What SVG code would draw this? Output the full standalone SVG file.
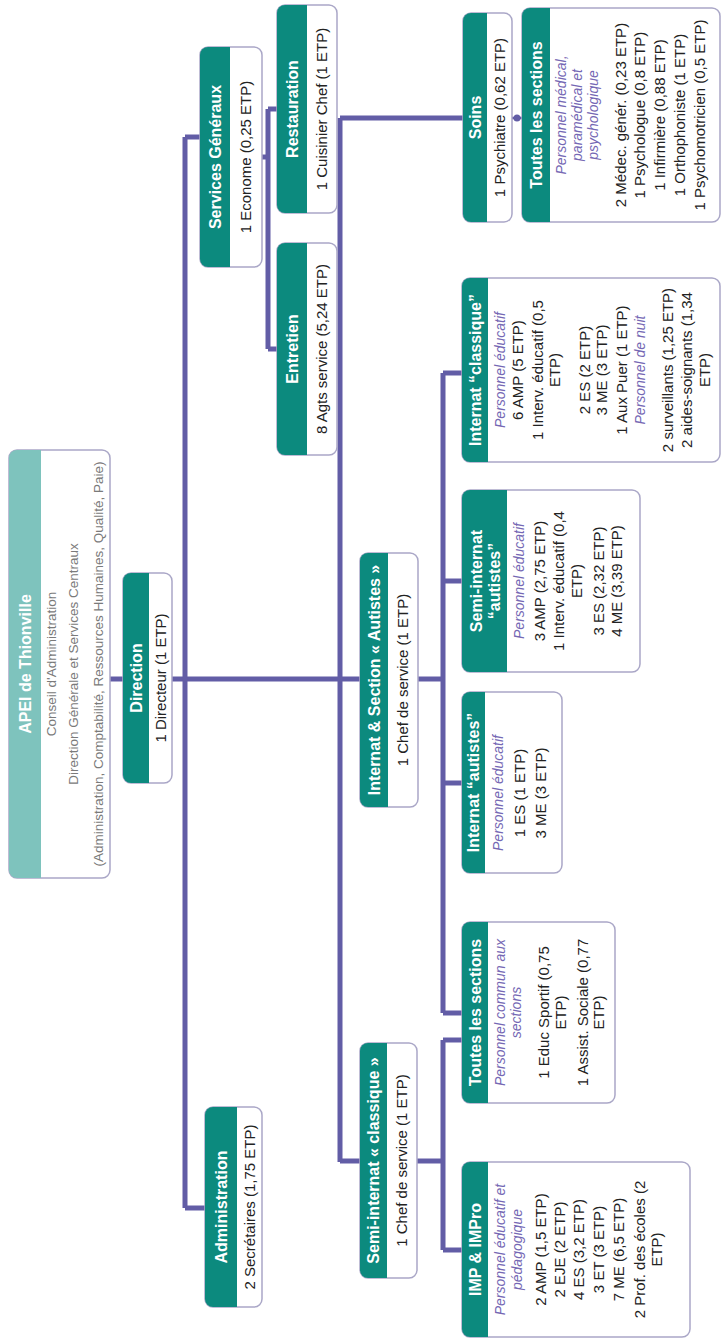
<svg xmlns="http://www.w3.org/2000/svg" width="723" height="1341" viewBox="0 0 723 1341">
<style>
.box{fill:#fff;stroke:#aaa7c7;stroke-width:1.5}
.band{fill:#0c8a7e}
.band2{fill:#7ec3bd}
text{font-family:"Liberation Sans",Arial,sans-serif;text-anchor:middle}
.hd{font-weight:bold;font-size:16px;fill:#fff}
.tx{font-size:15px;fill:#222}
.it{font-style:italic;font-size:14px;fill:#7568b4}
.gr{font-size:13.5px;fill:#7a7a7a}
.cn{fill:none;stroke:#625da6;stroke-width:5}
</style>
<rect width="723" height="1341" fill="#fff"/>
<g transform="translate(0,1341) rotate(-90)">
<g id="connectors" class="cn">
<path d="M662,110 V123"/>
<path d="M662,172 V360"/>
<path d="M133,185 H1204"/>
<path d="M1204,185 V200"/>
<path d="M133,185 V205"/>
<path d="M179,340 H1223"/>
<path d="M1223,340 V463"/>
<path d="M180,340 V360"/>
<path d="M1184,262 V268"/>
<path d="M992,268 H1232"/>
<path d="M1232,268 V277"/>
<path d="M992,268 V277"/>
<path d="M662,418 V443"/>
<path d="M328,443 H968"/>
<path d="M968,443 V462"/>
<path d="M760,443 V462"/>
<path d="M558,443 V462"/>
<path d="M328,443 V462"/>
<path d="M180,417 V443"/>
<path d="M91,443 H301"/>
<path d="M301,443 V462"/>
<path d="M91,443 V462"/>
<path d="M1223,512 V522" stroke-width="2.5"/>
</g>
<circle cx="1223" cy="517" r="3.5" fill="#625da6"/>

<g id="apei">
<rect class="box" x="463" y="9" width="428" height="101" rx="8"/>
<path class="band2" d="M463,41 V17 A8,8 0 0 1 471,9 H883 A8,8 0 0 1 891,17 V41 Z"/>
<text class="hd" x="677" y="31" font-size="13.5">APEI de Thionville</text>
<text class="gr" x="677" y="56">Conseil d'Administration</text>
<text class="gr" x="677" y="78">Direction Générale et Services Centraux</text>
<text class="gr" x="677" y="103">(Administration, Comptabilité, Ressources Humaines, Qualité, Paie)</text>
</g>

<g id="direction">
<rect class="box" x="558" y="123" width="210" height="49" rx="8"/>
<path class="band" d="M558,149 V131 A8,8 0 0 1 566,123 H760 A8,8 0 0 1 768,131 V149 Z"/>
<text class="hd" x="663" y="142">Direction</text>
<text class="tx" x="663" y="166">1 Directeur (1 ETP)</text>
</g>

<g id="services-generaux">
<rect class="box" x="1074" y="200" width="220" height="62" rx="8"/>
<path class="band" d="M1074,230 V208 A8,8 0 0 1 1082,200 H1286 A8,8 0 0 1 1294,208 V230 Z"/>
<text class="hd" x="1184" y="221">Services Généraux</text>
<text class="tx" x="1184" y="251">1 Econome (0,25 ETP)</text>
</g>

<g id="restauration">
<rect class="box" x="1128" y="277" width="208" height="60" rx="8"/>
<path class="band" d="M1128,307 V285 A8,8 0 0 1 1136,277 H1328 A8,8 0 0 1 1336,285 V307 Z"/>
<text class="hd" x="1232" y="298">Restauration</text>
<text class="tx" x="1232" y="327">1 Cuisinier Chef (1 ETP)</text>
</g>

<g id="entretien">
<rect class="box" x="886" y="277" width="212" height="60" rx="8"/>
<path class="band" d="M886,307 V285 A8,8 0 0 1 894,277 H1090 A8,8 0 0 1 1098,285 V307 Z"/>
<text class="hd" x="992" y="298">Entretien</text>
<text class="tx" x="992" y="327">8 Agts service (5,24 ETP)</text>
</g>

<g id="administration">
<rect class="box" x="34" y="205" width="200" height="57" rx="8"/>
<path class="band" d="M34,237 V213 A8,8 0 0 1 42,205 H226 A8,8 0 0 1 234,213 V237 Z"/>
<text class="hd" x="134" y="227">Administration</text>
<text class="tx" x="134" y="255">2 Secrétaires (1,75 ETP)</text>
</g>

<g id="internat-section-autistes">
<rect class="box" x="534" y="360" width="254" height="58" rx="8"/>
<path class="band" d="M534,388 V368 A8,8 0 0 1 542,360 H780 A8,8 0 0 1 788,368 V388 Z"/>
<text class="hd" x="661" y="380">Internat &amp; Section « Autistes »</text>
<text class="tx" x="661" y="408">1 Chef de service (1 ETP)</text>
</g>

<g id="semi-internat-classique">
<rect class="box" x="63" y="360" width="235" height="57" rx="8"/>
<path class="band" d="M63,387 V368 A8,8 0 0 1 71,360 H290 A8,8 0 0 1 298,368 V387 Z"/>
<text class="hd" x="180.5" y="379">Semi-internat « classique »</text>
<text class="tx" x="180.5" y="407">1 Chef de service (1 ETP)</text>
</g>

<g id="soins">
<rect class="box" x="1119" y="463" width="209" height="49" rx="8"/>
<path class="band" d="M1119,487 V471 A8,8 0 0 1 1127,463 H1320 A8,8 0 0 1 1328,471 V487 Z"/>
<text class="hd" x="1223.5" y="481">Soins</text>
<text class="tx" x="1223.5" y="505">1 Psychiatre (0,62 ETP)</text>
</g>

<g id="toutes-sections-soins">
<rect class="box" x="1119" y="522" width="214" height="198" rx="8"/>
<path class="band" d="M1119,550 V530 A8,8 0 0 1 1127,522 H1325 A8,8 0 0 1 1333,530 V550 Z"/>
<text class="hd" x="1226" y="542">Toutes les sections</text>
<text class="it" x="1226" y="566">Personnel médical,</text>
<text class="it" x="1226" y="582">paramédical et</text>
<text class="it" x="1226" y="598">psychologique</text>
<text class="tx" x="1226" y="626">2 Médec. génér. (0,23 ETP)</text>
<text class="tx" x="1226" y="645">1 Psychologue (0,8 ETP)</text>
<text class="tx" x="1226" y="665">1 Infirmière (0,88 ETP)</text>
<text class="tx" x="1226" y="685">1 Orthophoniste (1 ETP)</text>
<text class="tx" x="1226" y="705">1 Psychomotricien (0,5 ETP)</text>
</g>

<g id="internat-classique">
<rect class="box" x="879" y="462" width="184" height="258" rx="8"/>
<path class="band" d="M879,488 V470 A8,8 0 0 1 887,462 H1055 A8,8 0 0 1 1063,470 V488 Z"/>
<text class="hd" x="971" y="481">Internat “classique”</text>
<text class="it" x="971" y="505">Personnel éducatif</text>
<text class="tx" x="971" y="523">6 AMP (5 ETP)</text>
<text class="tx" x="971" y="543">1 Interv. éducatif (0,5</text>
<text class="tx" x="971" y="560">ETP)</text>
<text class="tx" x="971" y="590">2 ES (2 ETP)</text>
<text class="tx" x="971" y="607">3 ME (3 ETP)</text>
<text class="tx" x="971" y="627">1 Aux Puer (1 ETP)</text>
<text class="it" x="971" y="645">Personnel de nuit</text>
<text class="tx" x="971" y="673">2 surveillants (1,25 ETP)</text>
<text class="tx" x="971" y="692">2 aides-soignants (1,34</text>
<text class="tx" x="971" y="710">ETP)</text>
</g>

<g id="semi-internat-autistes">
<rect class="box" x="669" y="462" width="182" height="178" rx="8"/>
<path class="band" d="M669,507 V470 A8,8 0 0 1 677,462 H843 A8,8 0 0 1 851,470 V507 Z"/>
<text class="hd" x="760" y="482" font-size="15">Semi-internat</text>
<text class="hd" x="760" y="500" font-size="15">“autistes”</text>
<text class="it" x="760" y="524">Personnel éducatif</text>
<text class="tx" x="760" y="545">3 AMP (2,75 ETP)</text>
<text class="tx" x="760" y="564">1 Interv. éducatif (0,4</text>
<text class="tx" x="760" y="582">ETP)</text>
<text class="tx" x="760" y="604">3 ES (2,32 ETP)</text>
<text class="tx" x="760" y="622">4 ME (3,39 ETP)</text>
</g>

<g id="internat-autistes">
<rect class="box" x="468" y="462" width="181" height="100" rx="8"/>
<path class="band" d="M468,485 V470 A8,8 0 0 1 476,462 H641 A8,8 0 0 1 649,470 V485 Z"/>
<text class="hd" x="558.5" y="479">Internat “autistes”</text>
<text class="it" x="548" y="503">Personnel éducatif</text>
<text class="tx" x="548" y="525">1 ES (1 ETP)</text>
<text class="tx" x="548" y="546">3 ME (3 ETP)</text>
</g>

<g id="toutes-sections-commun">
<rect class="box" x="238" y="462" width="181" height="153" rx="8"/>
<path class="band" d="M238,488 V470 A8,8 0 0 1 246,462 H411 A8,8 0 0 1 419,470 V488 Z"/>
<text class="hd" x="328.5" y="481">Toutes les sections</text>
<text class="it" x="328.5" y="505">Personnel commun aux</text>
<text class="it" x="328.5" y="521">sections</text>
<text class="tx" x="328.5" y="549">1 Educ Sportif (0,75</text>
<text class="tx" x="328.5" y="566">ETP)</text>
<text class="tx" x="328.5" y="588">1 Assist. Sociale (0,77</text>
<text class="tx" x="328.5" y="604">ETP)</text>
</g>

<g id="imp-impro">
<rect class="box" x="4" y="462" width="175" height="228" rx="8"/>
<path class="band" d="M4,488 V470 A8,8 0 0 1 12,462 H171 A8,8 0 0 1 179,470 V488 Z"/>
<text class="hd" x="91.5" y="481">IMP &amp; IMPro</text>
<text class="it" x="91.5" y="505">Personnel éducatif et</text>
<text class="it" x="91.5" y="522">pédagogique</text>
<text class="tx" x="91.5" y="546">2 AMP (1,5 ETP)</text>
<text class="tx" x="91.5" y="565">2 EJE (2 ETP)</text>
<text class="tx" x="91.5" y="584">4 ES (3,2 ETP)</text>
<text class="tx" x="91.5" y="604">3 ET (3 ETP)</text>
<text class="tx" x="91.5" y="624">7 ME (6,5 ETP)</text>
<text class="tx" x="91.5" y="645">2 Prof. des écoles (2</text>
<text class="tx" x="91.5" y="662">ETP)</text>
</g>
</g>
</svg>
